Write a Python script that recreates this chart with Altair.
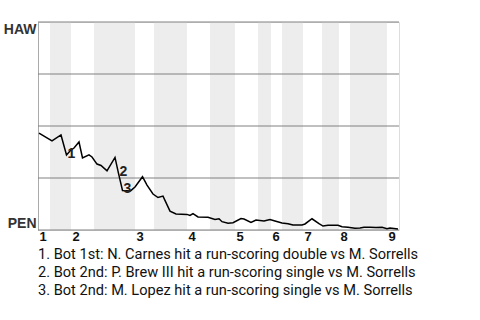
import altair as alt
import pandas as pd

# x unit ~ one plate appearance (game progress), y = HAW win probability
play = [0.2, 2.8, 4.6, 5.7, 6.4, 7.2, 8.2, 8.9, 10.2, 10.8, 11.8, 12.6, 13.8, 15.4, 16.1,
        16.9, 18.5, 19.4, 20.9, 21.8, 23.0, 24.0, 25.0, 26.4, 27.6, 29.8, 30.4, 31.0, 32.0,
        34.0, 35.4, 36.2, 36.8, 38.0, 39.0, 40.6, 41.2, 42.6, 43.6, 45.2, 46.4, 47.4, 48.8,
        50.0, 51.0, 52.8, 53.4, 54.8, 56.2, 57.0, 58.0, 60.0, 60.8, 62.0, 63.4, 64.4, 65.2,
        66.4, 67.6, 68.8, 69.8, 70.4, 72.0]
haw_wp = [0.466, 0.428, 0.457, 0.361, 0.380, 0.394, 0.423, 0.346, 0.361, 0.351, 0.317, 0.310,
          0.284, 0.349, 0.272, 0.190, 0.188, 0.207, 0.256, 0.216, 0.173, 0.156, 0.163, 0.091,
          0.077, 0.075, 0.070, 0.079, 0.063, 0.061, 0.051, 0.054, 0.040, 0.032, 0.035, 0.055,
          0.053, 0.036, 0.048, 0.043, 0.050, 0.043, 0.034, 0.030, 0.024, 0.024, 0.029, 0.054,
          0.031, 0.019, 0.023, 0.023, 0.016, 0.013, 0.008, 0.010, 0.013, 0.013, 0.012, 0.013,
          0.006, 0.010, 0.005]

# bottom half-innings (shaded)
bot_start = [2.4, 11.2, 23.2, 34.4, 44.0, 48.8, 56.8, 62.4]
bot_end = [6.6, 19.4, 29.8, 39.4, 46.6, 53.0, 60.2, 69.8]

inning_start = [0, 6.6, 19.4, 29.8, 39.4, 46.6, 53.0, 60.2, 69.8]
inning_label = ["1", "2", "3", "4", "5", "6", "7", "8", "9"]

grid_values = [0, 0.25, 0.5, 0.75, 1]

event_play = [5.7, 16.1, 16.9]
event_wp = [0.361, 0.272, 0.190]
event_label = ["1", "2", "3"]

captions = [
    "1. Bot 1st: N. Carnes hit a run-scoring double vs M. Sorrells",
    "2. Bot 2nd: P. Brew III hit a run-scoring single vs M. Sorrells",
    "3. Bot 2nd: M. Lopez hit a run-scoring single vs M. Sorrells",
]

line_df = pd.DataFrame({"play": play, "wp": haw_wp})
band_df = pd.DataFrame({"s": bot_start, "e": bot_end, "lo": [0] * len(bot_start),
                        "hi": [1] * len(bot_start)})
grid_df = pd.DataFrame({"g": grid_values})
ev_df = pd.DataFrame({"play": event_play, "wp": event_wp, "label": event_label})

xscale = alt.Scale(domain=[0, 72.2], nice=False, zero=False)
yscale = alt.Scale(domain=[0, 1], nice=False)

label_expr_x = "[" + ",".join("'%s'" % l for l in inning_label) + "][indexof(" + \
    "[" + ",".join(str(v) for v in inning_start) + "], datum.value)]"

xaxis = alt.Axis(values=inning_start, labelExpr=label_expr_x, grid=False, ticks=False,
                 domain=False, labelAlign="center", labelOffset=4.5, labelBaseline="top",
                 labelPadding=0, labelFontSize=13, labelFontWeight="bold",
                 labelFont="Liberation Sans", labelColor="#111", title=None)
yaxis = alt.Axis(values=[0, 1],
                 labelExpr="datum.value == 1 ? 'HAW' : 'PEN'",
                 labelFlush=True, labelFontSize=14, labelFontWeight="bold",
                 labelFont="Liberation Sans", labelColor="#333", ticks=False,
                 domainColor="#aaaaaa", grid=False, labelPadding=2, title=None)

bands = alt.Chart(band_df).mark_rect(color="#ededed").encode(
    x=alt.X("s:Q", scale=xscale, axis=xaxis),
    x2="e:Q",
    y=alt.Y("lo:Q", scale=yscale, axis=yaxis),
    y2="hi:Q",
)

grid = alt.Chart(grid_df).mark_rule(color="#808080", strokeWidth=1).encode(
    y=alt.Y("g:Q", scale=yscale),
)

line = alt.Chart(line_df).mark_line(color="black", strokeWidth=1.5).encode(
    x=alt.X("play:Q", scale=xscale),
    y=alt.Y("wp:Q", scale=yscale),
)

labels = alt.Chart(ev_df).mark_text(
    font="Liberation Sans", fontSize=14, fontWeight="bold", color="#222",
    align="center", baseline="middle", dx=5, dy=-1
).encode(
    x=alt.X("play:Q", scale=xscale),
    y=alt.Y("wp:Q", scale=yscale),
    text="label:N",
)

chart = alt.layer(bands, grid, line, labels).properties(
    width=361, height=208,
    autosize=alt.AutoSizeParams(type="none"),
    padding={"left": 38, "top": 22, "right": 81, "bottom": 90},
    title=alt.TitleParams(text=captions, orient="bottom", anchor="start", frame="group",
                          font="Roboto", fontSize=14.6, fontWeight="normal", color="#111",
                          lineHeight=18, offset=4),
).configure_view(strokeWidth=0).configure(background="white")

chart.save("out.html", embed_options={"renderer": "svg", "actions": False})
